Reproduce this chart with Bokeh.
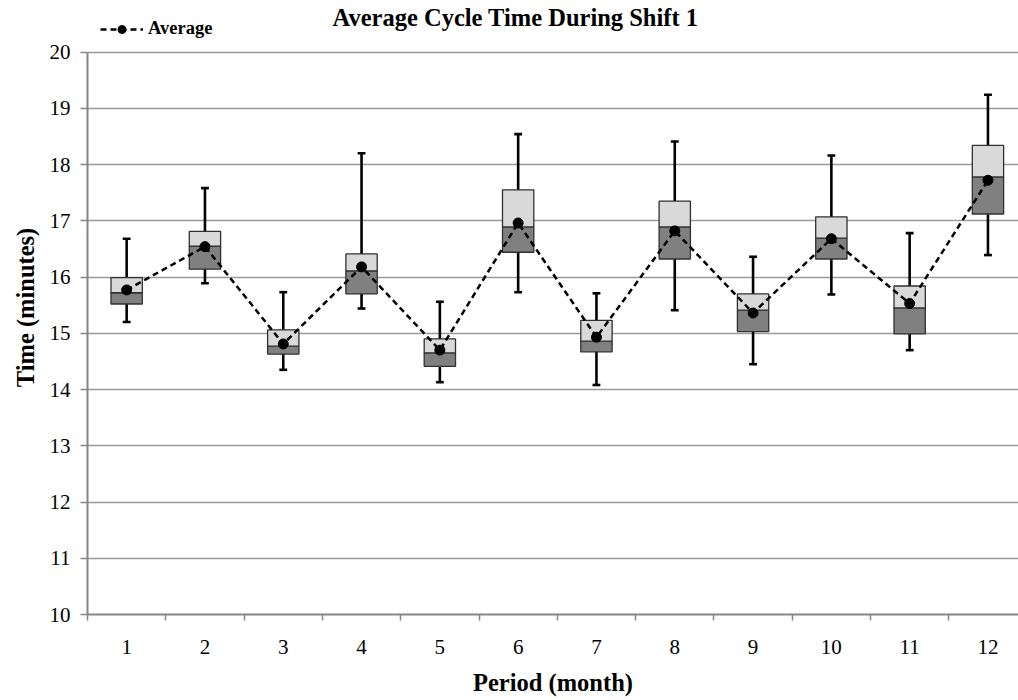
from bokeh.plotting import figure
from bokeh.models import (FixedTicker, Legend, LegendItem, Label, Range1d,
                          ColumnDataSource)
from bokeh.embed import file_html
from bokeh.resources import INLINE

# ---- data ----
periods = [1, 2, 3, 4, 5, 6, 7, 8, 9, 10, 11, 12]
whisker_min = [15.20, 15.89, 14.35, 15.44, 14.13, 15.73, 14.08, 15.41, 14.45, 15.69, 14.70, 16.39]
q1 = [15.52, 16.14, 14.63, 15.70, 14.41, 16.44, 14.67, 16.32, 15.03, 16.32, 14.99, 17.12]
median = [15.72, 16.55, 14.77, 16.11, 14.65, 16.89, 14.86, 16.89, 15.41, 16.69, 15.45, 17.78]
q3 = [15.99, 16.81, 15.06, 16.41, 14.90, 17.55, 15.23, 17.35, 15.70, 17.07, 15.84, 18.34]
whisker_max = [16.68, 17.58, 15.73, 18.20, 15.56, 18.54, 15.71, 18.41, 16.36, 18.16, 16.78, 19.24]
average = [15.77, 16.54, 14.81, 16.18, 14.70, 16.96, 14.93, 16.82, 15.36, 16.68, 15.53, 17.72]
x_labels = [str(v) for v in periods]
y_ticks = [10, 11, 12, 13, 14, 15, 16, 17, 18, 19, 20]
title_text = "Average Cycle Time During Shift 1"

FONT = "Liberation Serif"
box_w = 0.40
cap_half = 0.05

src = ColumnDataSource(dict(
    x=periods, lo=whisker_min, q1=q1, med=median, q3=q3, hi=whisker_max, avg=average,
    cap_l=[v - cap_half for v in periods], cap_r=[v + cap_half for v in periods],
))

# frame spans the full height above the x axis; the value axis covers 10..20
p = figure(width=1018, height=700, output_backend="svg", toolbar_location=None,
           x_range=Range1d(0.5, 12.39), y_range=Range1d(10, 20.916),
           min_border_left=87, min_border_right=0, min_border_top=0,
           min_border_bottom=86, outline_line_color=None)
p.background_fill_color = "white"
p.border_fill_color = "white"

# whiskers and caps
p.segment(x0="x", y0="lo", x1="x", y1="hi", source=src, line_color="black", line_width=2.6)
p.segment(x0="cap_l", y0="hi", x1="cap_r", y1="hi", source=src, line_color="black", line_width=2.6)
p.segment(x0="cap_l", y0="lo", x1="cap_r", y1="lo", source=src, line_color="black", line_width=2.6)

# boxes
p.vbar(x="x", width=box_w, bottom="q1", top="med", source=src,
       fill_color="#808080", line_color="#303030", line_width=1.3)
p.vbar(x="x", width=box_w, bottom="med", top="q3", source=src,
       fill_color="#d9d9d9", line_color="#303030", line_width=1.3)

# average line
ln = p.line(x="x", y="avg", source=src, line_color="black", line_width=2.5, line_dash="6 4")
sc = p.scatter(x="x", y="avg", source=src, size=10, fill_color="black", line_color="black")

legend = Legend(items=[LegendItem(label="Average", renderers=[ln, sc])],
                location=(13, 575), orientation="horizontal",
                padding=0, margin=0, spacing=0,
                glyph_width=43, glyph_height=20, label_standoff=5,
                border_line_color=None, background_fill_alpha=0,
                label_text_font=FONT, label_text_font_style="bold",
                label_text_font_size="18.5px", label_text_color="black")
p.add_layout(legend, "center")

# title
title = Label(x=428, y=597, x_units="screen", y_units="screen", text=title_text,
              text_align="center", text_baseline="middle",
              text_font=FONT, text_font_style="bold", text_font_size="24.5px",
              text_color="black")
p.add_layout(title, "center")

# axes
xa = p.xaxis[0]
xa.ticker = FixedTicker(ticks=periods, minor_ticks=[v + 0.5 for v in range(0, 13)])
xa.major_label_overrides = {v: lab for v, lab in zip(periods, x_labels)}
xa.major_tick_line_color = None
xa.minor_tick_line_color = "#868686"
xa.minor_tick_line_width = 1.5
xa.minor_tick_in = 0
xa.minor_tick_out = 6
xa.axis_line_color = "#868686"
xa.axis_line_width = 2
xa.major_label_text_font = FONT
xa.major_label_text_font_size = "21px"
xa.major_label_text_color = "black"
xa.major_label_standoff = 19
xa.axis_label = "Period (month)"
xa.axis_label_text_font = FONT
xa.axis_label_text_font_style = "bold"
xa.axis_label_text_font_size = "24.5px"
xa.axis_label_text_color = "black"
xa.axis_label_standoff = 12

ya = p.yaxis[0]
ya.ticker = FixedTicker(ticks=y_ticks)
ya.bounds = (10, 20)
ya.major_tick_line_color = "#868686"
ya.major_tick_line_width = 1.5
ya.major_tick_in = 0
ya.major_tick_out = 7
ya.minor_tick_line_color = None
ya.axis_line_color = "#868686"
ya.axis_line_width = 2
ya.major_label_text_font = FONT
ya.major_label_text_font_size = "21px"
ya.major_label_text_color = "black"
ya.major_label_standoff = 10
ya.axis_label = "Time (minutes)"
ya.axis_label_text_font = FONT
ya.axis_label_text_font_style = "bold"
ya.axis_label_text_font_size = "24.5px"
ya.axis_label_text_color = "black"
ya.axis_label_standoff = 8

p.xgrid.grid_line_color = None
p.ygrid.grid_line_color = "#9a9a9a"
p.ygrid.grid_line_width = 1.5
p.ygrid.ticker = FixedTicker(ticks=y_ticks[1:])

open("out.html", "w").write(file_html(p, INLINE))
